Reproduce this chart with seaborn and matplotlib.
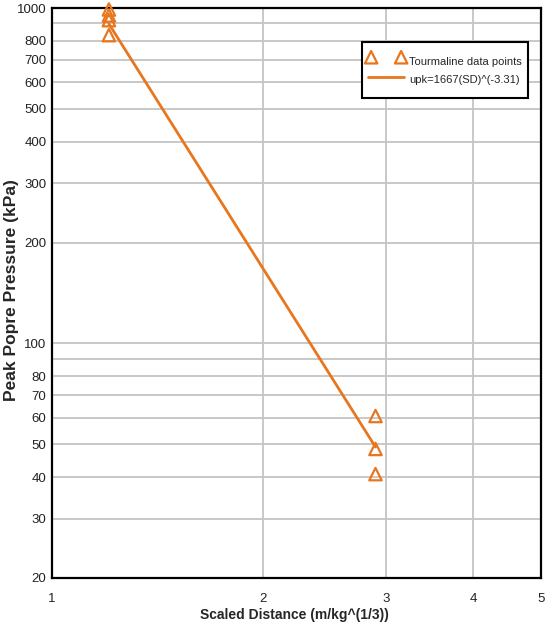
import matplotlib
matplotlib.use("Agg")
import matplotlib.pyplot as plt
from matplotlib.patches import Rectangle
from matplotlib.ticker import FixedLocator, FixedFormatter, NullLocator
import numpy as np
import pandas as pd
import seaborn as sns

# Measured peak pore pressure vs. scaled distance
scaled_distance = [1.206, 1.206, 1.206, 1.206, 2.90, 2.90, 2.90]
peak_pressure = [990, 950, 920, 830, 60.8, 48.5, 40.8]

# Power-law fit: upk = K * SD^b
fit_k = 1667
fit_b = -3.31
fit_range = [1.206, 2.90]

y_ticks = [20, 30, 40, 50, 60, 70, 80, 90, 100, 200, 300, 400, 500, 600, 700, 800, 900, 1000]
y_tick_labels = ["20", "30", "40", "50", "60", "70", "80", "", "100", "200", "300",
                 "400", "500", "600", "700", "800", "", "1000"]
x_ticks = [1, 2, 3, 4, 5]
x_tick_labels = ["1", "2", "3", "4", "5"]

sns.set_theme(style="white")
plt.rcParams["font.family"] = ["Liberation Sans", "DejaVu Sans"]

orange = "#E8761E"

points = pd.DataFrame({"sd": scaled_distance, "p": peak_pressure})
fit_x = np.array(fit_range)
fit = pd.DataFrame({"sd": fit_x, "p": fit_k * fit_x ** fit_b})

fig = plt.figure(figsize=(5.45, 6.28), dpi=100)
ax = fig.add_axes([52 / 545, 1 - 578 / 628, 489 / 545, 570 / 628])
ax.set_xscale("log")
ax.set_yscale("log")

sns.lineplot(data=fit, x="sd", y="p", ax=ax, color=orange, linewidth=2,
             label="upk=1667(SD)^(-3.31)", zorder=3)
sns.scatterplot(data=points, x="sd", y="p", ax=ax, marker="^", s=80,
                facecolor="none", edgecolor=orange, linewidth=1.6,
                label="Tourmaline data points", zorder=4, clip_on=False)

ax.set_xlim(1, 5)
ax.set_ylim(20, 1000)

ax.yaxis.set_major_locator(FixedLocator(y_ticks))
ax.yaxis.set_major_formatter(FixedFormatter(y_tick_labels))
ax.yaxis.set_minor_locator(NullLocator())
ax.xaxis.set_major_locator(FixedLocator(x_ticks))
ax.xaxis.set_major_formatter(FixedFormatter(x_tick_labels))
ax.xaxis.set_minor_locator(NullLocator())

ax.grid(True, which="major", color="#c4c4c4", linewidth=1.3)
ax.tick_params(axis="both", length=0, labelsize=9.5, colors="#222222")
ax.tick_params(axis="y", pad=4)
ax.tick_params(axis="x", pad=11)

for s in ax.spines.values():
    s.set_color("black")
    s.set_linewidth(1.6)

ax.set_xlabel("Scaled Distance (m/kg^(1/3))", fontsize=10, fontweight="bold")
ax.xaxis.set_label_coords(0.495, -0.053)
ax.set_ylabel("Peak Popre Pressure (kPa)", fontsize=12.5, fontweight="bold")
ax.yaxis.set_label_coords(-0.068, 0.505)

# Legend box: a white, square-cornered frame with the entries centred inside
box = Rectangle((0.634, 0.842), 0.3395, 0.0982, transform=ax.transAxes,
                facecolor="white", edgecolor="black", linewidth=1.5, zorder=5)
ax.add_patch(box)

handles, labels = ax.get_legend_handles_labels()
order = [labels.index("Tourmaline data points"), labels.index("upk=1667(SD)^(-3.31)")]
leg = ax.legend([handles[i] for i in order], [labels[i] for i in order],
                loc="center", bbox_to_anchor=(0.8037, 0.8912),
                scatterpoints=2, scatteryoffsets=[0.5],
                fontsize=8, frameon=False, labelspacing=0.25,
                handleheight=1.7, handlelength=3.3, handletextpad=0.45,
                borderpad=0, borderaxespad=0)
leg.set_zorder(6)

fig.savefig("out.png", dpi=100)
